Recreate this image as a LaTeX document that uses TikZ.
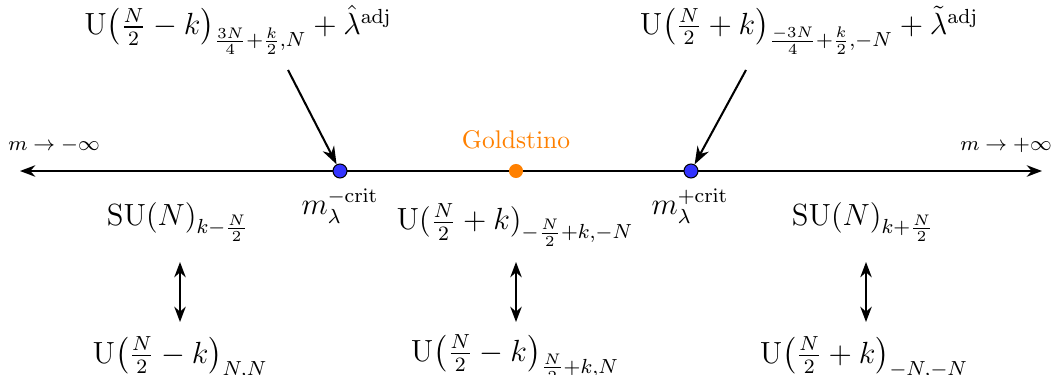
\documentclass[tikz,border=0pt]{standalone}
\usepackage{amsmath}
\usetikzlibrary{arrows.meta}
\begin{document}
\begin{tikzpicture}[x=0.392pt,y=-0.392pt,
  lab/.style={inner sep=0pt,font=\large},
  small/.style={inner sep=0pt,font=\fontsize{8.4}{10}\selectfont},
  arr/.style={-{Stealth[length=7pt,width=5pt]},thick},
  darr/.style={{Stealth[length=6pt,width=4.5pt]}-{Stealth[length=6pt,width=4.5pt]},thick},
  bluedot/.style={circle,draw=black,fill=blue!80,inner sep=0pt,minimum size=5.5pt,thin},
  orangedot/.style={circle,fill=orange,inner sep=0pt,minimum size=5.5pt}]
\useasboundingbox (0,0) rectangle (1054,374);
\coordinate (L) at (20,171);
\coordinate (R) at (1042,171);
\draw[darr] (L) -- (R);
\node[bluedot] (c1) at (340,171) {};
\node[orangedot] (g) at (516,171) {};
\node[bluedot] (c2) at (691,171) {};
\node[small] (minf) at (54,145) {$m\to-\infty$};
\node[small] (pinf) at (1006,145) {$m\to+\infty$};
\node[inner sep=0pt,text=orange] (gl) at (516,140) {Goldstino};
\node[lab] (tl) at (238,30) {$\mathrm{U}\big(\frac N2-k\big)_{\frac{3N}{4}+\frac k2,N}+\hat\lambda^{\mathrm{adj}}$};
\node[lab] (tr) at (809,30) {$\mathrm{U}\big(\frac N2+k\big)_{\frac{-3N}{4}+\frac k2,-N}+\tilde\lambda^{\mathrm{adj}}$};
\coordinate (a1) at (288,70);
\coordinate (a2) at (746,70);
\draw[arr] (a1) -- (c1);
\draw[arr] (a2) -- (c2);
\node[lab] (mm) at (340,206) {$m_\lambda^{-\mathrm{crit}}$};
\node[lab] (mp) at (690,206) {$m_\lambda^{+\mathrm{crit}}$};
\node[lab] (s1) at (178,222) {$\mathrm{SU}(N)_{k-\frac N2}$};
\node[lab] (s2) at (515,225) {$\mathrm{U}(\frac N2+k)_{-\frac N2+k,-N}$};
\node[lab] (s3) at (863,222) {$\mathrm{SU}(N)_{k+\frac N2}$};
\node[lab] (b1) at (180,358) {$\mathrm{U}\big(\frac N2-k\big)_{N,N}$};
\node[lab] (b2) at (515,358) {$\mathrm{U}\big(\frac N2-k\big)_{\frac N2+k,N}$};
\node[lab] (b3) at (864,358) {$\mathrm{U}\big(\frac N2+k\big)_{-N,-N}$};
\draw[darr] (180,262) -- (180,322);
\draw[darr] (516,262) -- (516,322);
\draw[darr] (866,262) -- (866,322);
\end{tikzpicture}
\end{document}
